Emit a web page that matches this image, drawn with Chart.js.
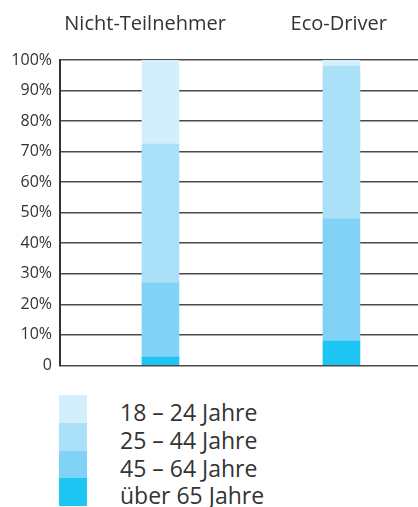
<!DOCTYPE html>
<html>
<head>
<meta charset="utf-8">
<script src="https://cdn.jsdelivr.net/npm/chart.js@4"></script>
<style>
  html, body { margin: 0; padding: 0; background: #fff; width: 418px; height: 507px; overflow: hidden; }
  #wrap { position: absolute; left: 0; top: 0; width: 418px; height: 383px; }
  #legend { position: absolute; left: 59px; top: 395px; font-family: "Open Sans", sans-serif; font-size: 23px; color: #333; }
  .row { position: relative; height: 27.8px; }
  .sw { position: absolute; left: 0; top: 0; width: 28px; height: 27.8px; }
  .lb { position: absolute; left: 61px; top: 4px; line-height: 27.8px; white-space: nowrap; }
</style>
</head>
<body>
<div id="wrap"><canvas id="c" width="418" height="383"></canvas></div>
<div id="legend"></div>
<script>
// Data
const categories = ['Nicht-Teilnehmer', 'Eco-Driver'];
const seriesNames = ['über 65 Jahre', '45 – 64 Jahre', '25 – 44 Jahre', '18 – 24 Jahre'];
const ueber65 = [2.7, 8];
const j45bis64 = [24.3, 40];
const j25bis44 = [45.5, 50];
const j18bis24 = [27.5, 2];
const yTicks = [0, 10, 20, 30, 40, 50, 60, 70, 80, 90, 100];

const seriesValues = [ueber65, j45bis64, j25bis44, j18bis24];
const colors = ['#1dc5f2', '#80d3f6', '#abe0f9', '#d3effb'];

const datasets = seriesValues.map((vals, s) => ({
  label: seriesNames[s],
  data: vals.map((v, i) => ({ x: i, y: v })),
  backgroundColor: colors[s],
  borderWidth: 0,
  barThickness: 37
}));

const FONT = '"Open Sans", sans-serif';

new Chart(document.getElementById('c'), {
  type: 'bar',
  data: { datasets },
  options: {
    responsive: false,
    animation: false,
    devicePixelRatio: 1,
    layout: { padding: { top: 0, right: 0, bottom: 7, left: 0 } },
    plugins: { legend: { display: false }, tooltip: { enabled: false } },
    scales: {
      x: {
        type: 'linear',
        position: 'top',
        stacked: true,
        offset: false,
        min: -0.555,
        max: 1.423,
        grid: { display: false, drawTicks: false, offset: false },
        border: { display: false },
        afterBuildTicks: (scale) => { scale.ticks = [{ value: -0.085 }, { value: 0.985 }]; },
        afterFit: (scale) => { scale.height = 60; },
        ticks: {
          autoSkip: false,
          maxRotation: 0,
          padding: 24,
          color: '#333',
          font: { family: FONT, size: 20 },
          callback: (v, i) => categories[i]
        }
      },
      y: {
        stacked: true,
        min: 0,
        max: 100,
        grid: { color: '#4a4a4a', lineWidth: 1.5, drawTicks: false },
        border: { display: true, color: '#333', width: 2 },
        afterBuildTicks: (scale) => { scale.ticks = yTicks.map(v => ({ value: v })); },
        afterFit: (scale) => { scale.width = 60; },
        ticks: {
          padding: 8,
          color: '#333',
          font: { family: FONT, size: 16 },
          callback: (v) => v === 0 ? '0' : v + '%'
        }
      }
    }
  }
});

// Legend (top to bottom: youngest first)
const legend = document.getElementById('legend');
for (let s = seriesNames.length - 1; s >= 0; s--) {
  const row = document.createElement('div');
  row.className = 'row';
  const sw = document.createElement('div');
  sw.className = 'sw';
  sw.style.background = colors[s];
  const lb = document.createElement('div');
  lb.className = 'lb';
  lb.textContent = seriesNames[s];
  row.appendChild(sw);
  row.appendChild(lb);
  legend.appendChild(row);
}
</script>
</body>
</html>
